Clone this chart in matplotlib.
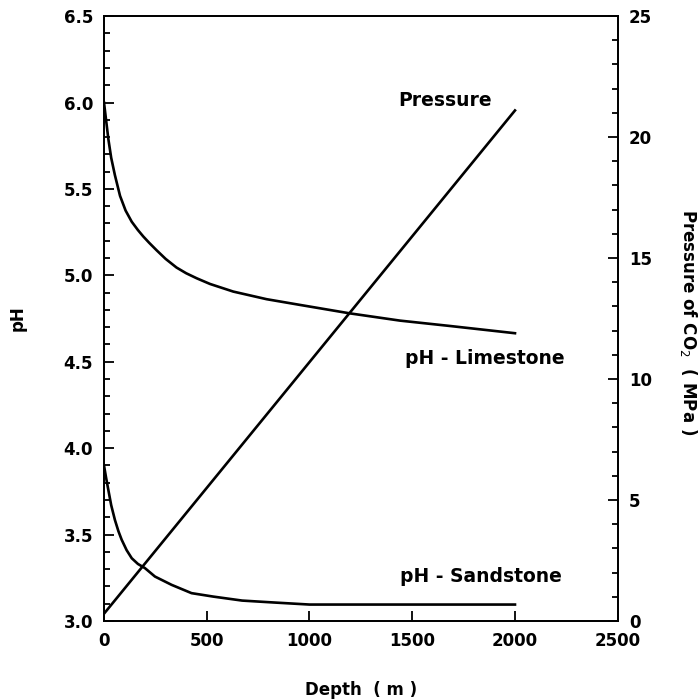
import numpy as np
import matplotlib.pyplot as plt
from matplotlib.ticker import MultipleLocator

# pH of the brine in limestone and sandstone versus depth
depth_lime = [0, 10, 21, 35, 53, 78, 105, 135, 165, 191, 220, 256, 300, 353, 400, 451, 516, 629,
              791, 953, 1196, 1440, 1683, 2000]
ph_lime = [6.00, 5.90, 5.79, 5.68, 5.58, 5.46, 5.375, 5.31, 5.262, 5.225, 5.188, 5.145, 5.095,
           5.045, 5.012, 4.983, 4.95, 4.906, 4.862, 4.829, 4.78, 4.738, 4.707, 4.665]

depth_sand = [0, 10, 21, 35, 53, 70, 86, 110, 135, 165, 199, 248, 329, 426, 532, 672, 825, 1000,
              1500, 2000]
ph_sand = [3.90, 3.83, 3.759, 3.67, 3.585, 3.52, 3.47, 3.41, 3.363, 3.33, 3.306, 3.257, 3.209,
           3.161, 3.141, 3.118, 3.107, 3.095, 3.095, 3.095]

# CO2 pressure versus depth
depth_pres = [0, 2000]
pres_co2 = [0.3, 21.1]

LW = 1.9
plt.rcParams['font.family'] = ['DejaVu Sans']

fig = plt.figure(figsize=(6.98, 7.0), dpi=100)
ax = fig.add_axes([0.149, 0.1129, 0.736, 0.8641])
ax2 = ax.twinx()

ax.plot(depth_lime, ph_lime, color='black', lw=LW)
ax.plot(depth_sand, ph_sand, color='black', lw=LW)
ax2.plot(depth_pres, pres_co2, color='black', lw=LW)

ax.set_xlim(0, 2500)
ax.set_ylim(3.0, 6.5)
ax2.set_ylim(0, 25)

ax.xaxis.set_major_locator(MultipleLocator(500))
ax.yaxis.set_major_locator(MultipleLocator(0.5))
ax.yaxis.set_minor_locator(MultipleLocator(0.1))
ax2.yaxis.set_major_locator(MultipleLocator(5))
ax2.yaxis.set_minor_locator(MultipleLocator(1))
ax.yaxis.set_major_formatter(plt.FormatStrFormatter('%.1f'))

ax.tick_params(axis='x', direction='in', length=7, width=1.3, labelsize=12, pad=8, top=False)
ax.tick_params(axis='y', which='major', direction='in', length=7, width=1.3, labelsize=12, pad=8, right=False)
ax.tick_params(axis='y', which='minor', direction='in', length=4, width=1.3, right=False)
ax2.tick_params(axis='y', which='major', direction='in', length=7, width=1.3, labelsize=12, pad=8)
ax2.tick_params(axis='y', which='minor', direction='in', length=4, width=1.3)

for a in (ax, ax2):
    for sp in a.spines.values():
        sp.set_linewidth(1.3)
    for lab in a.get_xticklabels() + a.get_yticklabels():
        lab.set_fontweight('bold')

ax.set_xlabel('Depth  ( m )', fontsize=12, fontweight='bold', labelpad=22)
ax.set_ylabel('pH', fontsize=12, fontweight='bold')
ax.yaxis.set_label_coords(-0.15, 0.5)
fig.text(688 / 698, 1 - 322 / 700, 'Pressure of CO$_2$  ( MPa )', rotation=270,
         ha='center', va='center', fontsize=12, fontweight='bold')

ax.text(1658, 6.01, 'Pressure', fontsize=13.5, fontweight='bold', ha='center', va='center')
ax.text(1853, 4.52, 'pH - Limestone', fontsize=13.5, fontweight='bold', ha='center', va='center')
ax.text(1834, 3.255, 'pH - Sandstone', fontsize=13.5, fontweight='bold', ha='center', va='center')

fig.savefig('out.png', dpi=100)
